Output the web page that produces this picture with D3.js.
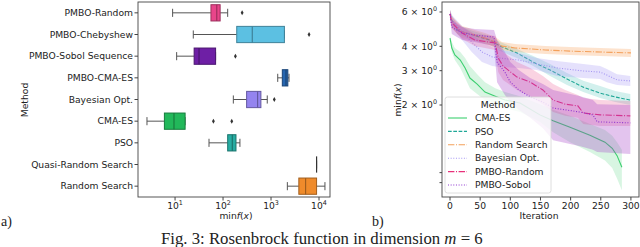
<!DOCTYPE html>
<html>
<head>
<meta charset="utf-8">
<script src="https://cdn.jsdelivr.net/npm/d3@7"></script>
<style>
  body { margin: 0; background: #fff; }
  text { font-family: "DejaVu Sans", sans-serif; fill: #222; }
  .serif { font-family: "Liberation Serif", "DejaVu Serif", serif; }
</style>
</head>
<body>
<svg id="fig" width="640" height="247"></svg>
<script>
// ---------- panel a) : box plot of min f(x) per method ----------
const methods = ['PMBO-Random', 'PMBO-Chebyshew', 'PMBO-Sobol Sequence', 'PMBO-CMA-ES',
  'Bayesian Opt.', 'CMA-ES', 'PSO', 'Quasi-Random Search', 'Random Search'];
const boxColors = ['#e8458a', '#5cc0e2', '#6e1fa5', '#2666b0', '#9484ef', '#22b85a', '#27aca2', '#888888', '#ef8b2b'];
const whiskLo = [8.9, 24, 10.8, 1380, 164, 2.6, 51, 8900, 2190];
const q1 = [56, 193, 25, 1720, 310, 6, 125, 8900, 3800];
const median = [74, 407, 31.6, 2050, 525, 9.5, 156, 8900, 5250];
const q3 = [87, 1900, 70, 2240, 615, 16.2, 186, 8900, 8900];
const whiskHi = [125, 1900, 70, 2370, 835, 16.2, 225, 8900, 13300];
const outliers = [[250], [6200], [181], [], [1170], [63, 152], [], [], []];
const xTicksA = [10, 100, 1000, 10000];

// ---------- panel b) : convergence curves ----------
const cmaIter = [0, 3, 8, 17, 25, 33, 45, 58, 75, 91, 116, 149, 171, 199, 232, 257, 269, 277, 285];
const cmaMean = [4.41, 3.92, 3.61, 3.40, 3.10, 2.75, 2.56, 2.33, 2.22, 2.12, 2.05, 1.78, 1.66, 1.54, 1.40, 1.29, 1.20, 1.10, 0.96];
const cmaHigh = [4.52, 4.21, 3.92, 3.74, 3.48, 3.17, 2.88, 2.62, 2.44, 2.33, 2.22, 2.02, 1.89, 1.76, 1.60, 1.49, 1.39, 1.29, 1.18];
const cmaLow  = [4.31, 3.74, 3.40, 3.10, 2.75, 2.44, 2.28, 2.12, 2.02, 1.93, 1.84, 1.64, 1.45, 1.29, 1.15, 1.04, 0.95, 0.84, 0.73];

const psoIter = [0, 3, 12, 38, 66, 83, 111, 138, 166, 194, 221, 249, 274, 299];
const psoMean = [5.86, 5.46, 4.85, 4.57, 4.31, 4.01, 3.70, 3.32, 3.02, 2.72, 2.47, 2.30, 2.20, 2.12];
const psoHigh = [6.14, 5.79, 5.14, 4.79, 4.52, 4.21, 3.88, 3.57, 3.25, 2.92, 2.66, 2.50, 2.36, 2.28];
const psoLow  = [5.59, 5.14, 4.63, 4.31, 4.06, 3.78, 3.48, 3.17, 2.82, 2.53, 2.33, 2.17, 2.07, 2.00];

const rsIter = [0, 3, 12, 20, 41, 58, 75, 86, 108, 133, 158, 199, 249, 300];
const rsMean = [5.86, 5.33, 4.97, 4.74, 4.57, 4.41, 4.21, 4.01, 3.92, 3.88, 3.83, 3.78, 3.74, 3.70];
const rsHigh = [6.14, 5.72, 5.33, 5.08, 4.85, 4.68, 4.46, 4.21, 4.11, 4.06, 4.01, 3.97, 3.92, 3.88];
const rsLow  = [5.59, 4.97, 4.63, 4.41, 4.26, 4.11, 3.97, 3.83, 3.74, 3.70, 3.65, 3.61, 3.57, 3.53];

const boIter = [0, 3, 20, 36, 53, 70, 83, 114, 144, 177, 221, 249, 260, 277, 299];
const boMean = [5.86, 5.46, 4.74, 4.21, 3.74, 3.53, 3.48, 3.40, 3.25, 3.10, 2.99, 2.95, 2.85, 2.69, 2.66];
const boHigh = [6.14, 5.79, 5.08, 4.63, 4.21, 3.97, 3.83, 3.70, 3.48, 3.36, 3.25, 3.17, 3.06, 2.88, 2.82];
const boLow  = [5.59, 5.08, 4.31, 3.74, 3.32, 3.17, 3.13, 3.10, 3.02, 2.82, 2.75, 2.72, 2.62, 2.53, 2.50];

const prIter = [0, 3, 20, 41, 75, 80, 88, 111, 133, 154, 171, 191, 212, 221, 249, 299];
const prMean = [5.86, 5.27, 4.68, 4.31, 4.16, 3.48, 3.17, 2.78, 2.62, 2.39, 2.12, 2.02, 1.98, 1.82, 1.78, 1.76];
const prHigh = [6.14, 5.65, 5.02, 4.63, 4.52, 4.11, 3.74, 3.32, 3.10, 2.82, 2.56, 2.39, 2.25, 2.17, 2.12, 2.10];
const prLow  = [5.59, 4.97, 4.36, 4.01, 3.83, 2.95, 2.69, 2.39, 2.22, 2.02, 1.84, 1.76, 1.72, 1.60, 1.56, 1.56];

const psIter = [0, 3, 20, 41, 73, 78, 91, 100, 114, 133, 154, 171, 216, 237, 244, 299];
const psMean = [5.86, 5.02, 4.68, 4.57, 4.46, 3.32, 2.95, 2.62, 2.39, 2.20, 2.07, 1.93, 1.84, 1.78, 1.64, 1.62];
const psHigh = [6.14, 5.46, 5.02, 4.91, 4.85, 4.31, 3.74, 3.32, 3.02, 2.75, 2.56, 2.39, 2.22, 2.12, 2.02, 2.00];
const psLow  = [5.59, 4.63, 4.31, 4.21, 4.01, 2.62, 2.25, 2.07, 1.89, 1.72, 1.52, 1.32, 1.23, 1.18, 1.15, 1.12];

const xTicksB = [0, 50, 100, 150, 200, 250, 300];
const yTicksB = [6, 4, 3, 2];
const yMinorB = [0.9, 0.8];

const series = [
  { name: 'CMA-ES', color: '#3ccf6f', band: '#3ccf6f', op: 0.2, dash: null, it: cmaIter, mean: cmaMean, lo: cmaLow, hi: cmaHigh },
  { name: 'PSO', color: '#1fa797', band: '#1fb5a5', op: 0.2, dash: '3.7,1.6', it: psoIter, mean: psoMean, lo: psoLow, hi: psoHigh },
  { name: 'Random Search', color: '#f4a05a', band: '#f7a35c', op: 0.3, dash: '6.4,1.6,1,1.6', it: rsIter, mean: rsMean, lo: rsLow, hi: rsHigh },
  { name: 'Bayesian Opt.', color: '#a495f2', band: '#a99bf5', op: 0.3, dash: '1,1.65', it: boIter, mean: boMean, lo: boLow, hi: boHigh },
  { name: 'PMBO-Random', color: '#e8307a', band: '#ec4f8c', op: 0.25, dash: '6.4,1.6,1,1.6', it: prIter, mean: prMean, lo: prLow, hi: prHigh },
  { name: 'PMBO-Sobol', color: '#8f35cf', band: '#a23ac8', op: 0.3, dash: '1,1.65', it: psIter, mean: psMean, lo: psLow, hi: psHigh },
];

const svg = d3.select('#fig');
svg.append('rect').attr('width', 640).attr('height', 247).attr('fill', '#fff');
const axisColor = '#444';
const fs = 9.2;

function supText(g, x, y, base, sup, anchor) {
  const t = g.append('text').attr('x', x).attr('y', y).attr('text-anchor', anchor).attr('font-size', fs);
  t.append('tspan').text(base);
  t.append('tspan').attr('dy', -4).attr('font-size', 6.4).text(sup);
  return t;
}

// ===== panel a =====
const frameA = { l: 138, r: 330, t: 2, b: 197 };
const xA = d3.scaleLog().domain([1.69, 16950]).range([frameA.l, frameA.r]);
const yA = d3.scaleBand().domain(methods).range([frameA.t, frameA.b]);
const ga = svg.append('g');
const bh = yA.bandwidth() * 0.75;
const lineCol = '#555';

methods.forEach((m, i) => {
  const cy = yA(m) + yA.bandwidth() / 2;
  const g = ga.append('g');
  // whiskers + caps
  g.append('line').attr('x1', xA(whiskLo[i])).attr('x2', xA(q1[i])).attr('y1', cy).attr('y2', cy)
    .attr('stroke', lineCol).attr('stroke-width', 1);
  g.append('line').attr('x1', xA(q3[i])).attr('x2', xA(whiskHi[i])).attr('y1', cy).attr('y2', cy)
    .attr('stroke', lineCol).attr('stroke-width', 1);
  [whiskLo[i], whiskHi[i]].forEach(v => {
    g.append('line').attr('x1', xA(v)).attr('x2', xA(v)).attr('y1', cy - bh / 4).attr('y2', cy + bh / 4)
      .attr('stroke', lineCol).attr('stroke-width', 1);
  });
  if (q3[i] > q1[i]) {
    g.append('rect').attr('x', xA(q1[i])).attr('y', cy - bh / 2)
      .attr('width', xA(q3[i]) - xA(q1[i])).attr('height', bh)
      .attr('fill', boxColors[i]).attr('stroke', d3.color(boxColors[i]).darker(1.1)).attr('stroke-width', 1);
  }
  g.append('line').attr('x1', xA(median[i])).attr('x2', xA(median[i])).attr('y1', cy - bh / 2).attr('y2', cy + bh / 2)
    .attr('stroke', q3[i] > q1[i] ? d3.color(boxColors[i]).darker(1.1) : '#333').attr('stroke-width', 1.2);
  outliers[i].forEach(v => {
    g.append('path').attr('d', d3.symbol(d3.symbolDiamond, 7)())
      .attr('transform', `translate(${xA(v)},${cy})`).attr('fill', '#333');
  });
});

// frame a
ga.append('rect').attr('x', frameA.l).attr('y', frameA.t).attr('width', frameA.r - frameA.l)
  .attr('height', frameA.b - frameA.t).attr('fill', 'none').attr('stroke', axisColor).attr('stroke-width', 0.9);
// y ticks a
methods.forEach(m => {
  const cy = yA(m) + yA.bandwidth() / 2;
  ga.append('line').attr('x1', frameA.l - 3.5).attr('x2', frameA.l).attr('y1', cy).attr('y2', cy).attr('stroke', axisColor);
  ga.append('text').attr('x', frameA.l - 5).attr('y', cy).attr('dy', '0.35em').attr('text-anchor', 'end')
    .attr('font-size', fs).text(m);
});
// x ticks a
xTicksA.forEach(v => {
  const x = xA(v);
  ga.append('line').attr('x1', x).attr('x2', x).attr('y1', frameA.b).attr('y2', frameA.b + 3.5).attr('stroke', axisColor);
  supText(ga, x, frameA.b + 12, '10', String(Math.round(Math.log10(v))), 'middle');
});
{
  const t = ga.append('text').attr('x', 236).attr('y', 219).attr('text-anchor', 'middle').attr('font-size', fs);
  t.append('tspan').text('min');
  t.append('tspan').attr('font-style', 'italic').text('f');
  t.append('tspan').text('(');
  t.append('tspan').attr('font-style', 'italic').text('x');
  t.append('tspan').text(')');
}
ga.append('text').attr('transform', 'translate(28,100) rotate(-90)').attr('text-anchor', 'middle')
  .attr('font-size', fs).text('Method');

// ===== panel b =====
const frameB = { l: 442, r: 639, t: 2, b: 197 };
const xB = d3.scaleLinear().domain([-13.3, 313.4]).range([frameB.l, frameB.r]);
const yB = d3.scaleLog().domain([0.675, 6.75]).range([frameB.b, frameB.t]);
const gb = svg.append('g');
svg.append('defs').append('clipPath').attr('id', 'clipB').append('rect')
  .attr('x', frameB.l).attr('y', frameB.t).attr('width', frameB.r - frameB.l).attr('height', frameB.b - frameB.t);
const plotB = gb.append('g').attr('clip-path', 'url(#clipB)');

series.forEach(s => {
  const pts = s.it.map((it, k) => ({ it, m: s.mean[k], lo: s.lo[k], hi: s.hi[k] }));
  const area = d3.area().x(d => xB(d.it)).y0(d => yB(d.lo)).y1(d => yB(d.hi));
  plotB.append('path').attr('d', area(pts)).attr('fill', s.band).attr('fill-opacity', s.op);
  const line = d3.line().x(d => xB(d.it)).y(d => yB(d.m));
  plotB.append('path').attr('d', line(pts)).attr('fill', 'none').attr('stroke', s.color)
    .attr('stroke-width', 1.1).attr('stroke-dasharray', s.dash);
});

gb.append('rect').attr('x', frameB.l).attr('y', frameB.t).attr('width', frameB.r - frameB.l)
  .attr('height', frameB.b - frameB.t).attr('fill', 'none').attr('stroke', axisColor).attr('stroke-width', 0.9);

xTicksB.forEach(v => {
  const x = xB(v);
  gb.append('line').attr('x1', x).attr('x2', x).attr('y1', frameB.b).attr('y2', frameB.b + 3.5).attr('stroke', axisColor);
  gb.append('text').attr('x', x).attr('y', frameB.b + 12).attr('text-anchor', 'middle').attr('font-size', fs).text(v);
});
yTicksB.forEach(v => {
  const y = yB(v);
  gb.append('line').attr('x1', frameB.l - 2.5).attr('x2', frameB.l).attr('y1', y).attr('y2', y).attr('stroke', axisColor);
  supText(gb, frameB.l - 5, y + 3.3, `${v} × 10`, '0', 'end');
});
yMinorB.forEach(v => {
  const y = yB(v);
  gb.append('line').attr('x1', frameB.l - 2.5).attr('x2', frameB.l).attr('y1', y).attr('y2', y).attr('stroke', axisColor);
});
gb.append('text').attr('x', 539).attr('y', 219).attr('text-anchor', 'middle').attr('font-size', fs).text('Iteration');
{
  const t = gb.append('text').attr('transform', 'translate(401,100) rotate(-90)').attr('text-anchor', 'middle').attr('font-size', fs);
  t.append('tspan').text('min');
  t.append('tspan').attr('font-style', 'italic').text('f');
  t.append('tspan').text('(');
  t.append('tspan').attr('font-style', 'italic').text('x');
  t.append('tspan').text(')');
}

// legend
const lg = gb.append('g');
lg.append('rect').attr('x', 445).attr('y', 97).attr('width', 106).attr('height', 96).attr('rx', 2.5)
  .attr('fill', '#fff').attr('fill-opacity', 0.8).attr('stroke', '#d5d5d5').attr('stroke-width', 0.8);
lg.append('text').attr('x', 498).attr('y', 108.3).attr('text-anchor', 'middle').attr('font-size', fs).text('Method');
series.forEach((s, k) => {
  const cy = 118 + k * 13.4;
  lg.append('line').attr('x1', 448).attr('x2', 467).attr('y1', cy).attr('y2', cy)
    .attr('stroke', s.color).attr('stroke-width', 1.1).attr('stroke-dasharray', s.dash);
  lg.append('text').attr('x', 475).attr('y', cy).attr('dy', '0.35em').attr('font-size', fs).text(s.name);
});

// panel letters + caption
svg.append('text').attr('class', 'serif').attr('x', 1).attr('y', 226).attr('font-size', 14).text('a)');
svg.append('text').attr('class', 'serif').attr('x', 372).attr('y', 226).attr('font-size', 14).text('b)');
const cap = svg.append('text').attr('class', 'serif').attr('x', 161).attr('y', 244).attr('font-size', 15);
cap.append('tspan').text('Fig. 3: Rosenbrock function in dimension ');
cap.append('tspan').attr('font-style', 'italic').text('m');
cap.append('tspan').text(' = 6');
const w = cap.node().getComputedTextLength();
cap.attr('font-size', 15 * 322 / w);
</script>
</body>
</html>
